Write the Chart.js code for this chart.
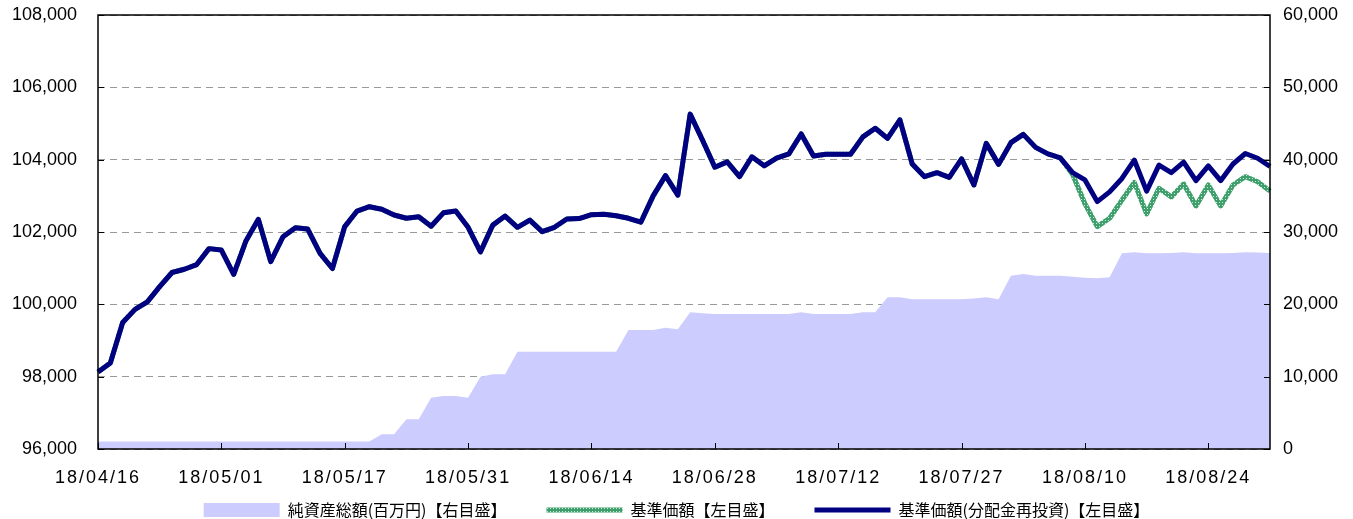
<!DOCTYPE html>
<html>
<head>
<meta charset="utf-8">
<script src="https://cdn.jsdelivr.net/npm/chart.js@4.4.1/dist/chart.umd.min.js"></script>
<style>
html,body{margin:0;padding:0;background:#fff;}
#wrap{width:1353px;height:519px;}
</style>
</head>
<body>
<div id="wrap"><canvas id="c" width="1353" height="519"></canvas></div>
<script>
// ---- data ----
const dates = [
 '18/04/16','18/04/17','18/04/18','18/04/19','18/04/20','18/04/23','18/04/24','18/04/25','18/04/26','18/04/27',
 '18/05/01','18/05/02','18/05/07','18/05/08','18/05/09','18/05/10','18/05/11','18/05/14','18/05/15','18/05/16',
 '18/05/17','18/05/18','18/05/21','18/05/22','18/05/23','18/05/24','18/05/25','18/05/28','18/05/29','18/05/30',
 '18/05/31','18/06/01','18/06/04','18/06/05','18/06/06','18/06/07','18/06/08','18/06/11','18/06/12','18/06/13',
 '18/06/14','18/06/15','18/06/18','18/06/19','18/06/20','18/06/21','18/06/22','18/06/25','18/06/26','18/06/27',
 '18/06/28','18/06/29','18/07/02','18/07/03','18/07/04','18/07/05','18/07/06','18/07/09','18/07/10','18/07/11',
 '18/07/12','18/07/13','18/07/17','18/07/18','18/07/19','18/07/20','18/07/23','18/07/24','18/07/25','18/07/26',
 '18/07/27','18/07/30','18/07/31','18/08/01','18/08/02','18/08/03','18/08/06','18/08/07','18/08/08','18/08/09',
 '18/08/10','18/08/13','18/08/14','18/08/15','18/08/16','18/08/17','18/08/20','18/08/21','18/08/22','18/08/23',
 '18/08/24','18/08/27','18/08/28','18/08/29','18/08/30','18/08/31'
];
const tickLabels = ['18/04/16','18/05/01','18/05/17','18/05/31','18/06/14','18/06/28','18/07/12','18/07/27','18/08/10','18/08/24'];

// 基準価額(分配金再投資)
const navReinvested = [
 98130, 98380, 99500, 99860,100070,100490,100880,100970,101100,101540,
 101500,100830,101760,102350,101180,101870,102120,102080,101410,100990,
 102150,102580,102700,102630,102470,102380,102420,102160,102530,102580,
 102130,101450,102190,102440,102130,102330,102010,102130,102360,102370,
 102480,102490,102450,102380,102270,103000,103560,103020,105260,104540,
 103790,103940,103530,104080,103830,104040,104160,104710,104100,104150,
 104150,104150,104630,104870,104590,105100,103880,103530,103640,103510,
 104020,103300,104450,103870,104470,104700,104340,104160,104050,103640,
 103440,102840,103110,103480,103990,103130,103850,103640,103930,103420,
 103830,103420,103880,104170,104040,103810
];
// 基準価額
const navPrice = [
 98130, 98380, 99500, 99860,100070,100490,100880,100970,101100,101540,
 101500,100830,101760,102350,101180,101870,102120,102080,101410,100990,
 102150,102580,102700,102630,102470,102380,102420,102160,102530,102580,
 102130,101450,102190,102440,102130,102330,102010,102130,102360,102370,
 102480,102490,102450,102380,102270,103000,103560,103020,105260,104540,
 103790,103940,103530,104080,103830,104040,104160,104710,104100,104150,
 104150,104150,104630,104870,104590,105100,103880,103530,103640,103510,
 104020,103300,104450,103870,104470,104700,104340,104160,104050,103590,
 102780,102150,102380,102880,103370,102500,103210,102970,103330,102720,
 103300,102720,103300,103530,103390,103130
];
// 純資産総額(百万円)
const netAssets = [
 1050,1050,1050,1050,1050,1050,1050,1050,1050,1050,
 1050,1050,1050,1050,1050,1050,1050,1050,1050,1050,
 1050,1050,1050,2030,2030,4100,4100,7090,7330,7330,
 7090,10000,10320,10320,13460,13460,13460,13460,13460,13460,
 13460,13460,13460,16450,16450,16450,16770,16550,18890,18760,
 18660,18660,18660,18660,18660,18660,18660,18890,18660,18660,
 18660,18660,18890,18890,20970,20970,20700,20700,20700,20700,
 20700,20800,20970,20700,23960,24190,23960,23960,23960,23820,
 23680,23590,23750,27050,27190,27050,27050,27100,27190,27050,
 27050,27050,27100,27190,27150,27100
];
const leftMin = 96000, leftMax = 108000, leftStep = 2000;
const rightMin = 0, rightMax = 60000, rightStep = 10000;

// ---- styles ----
const pc = document.createElement('canvas');
pc.width = 3; pc.height = 3;
const pctx = pc.getContext('2d');
pctx.fillStyle = '#3f9f6c'; pctx.fillRect(0,0,3,3);
pctx.fillStyle = '#cdebd8'; pctx.fillRect(1,1,1,1);
const greenPattern = pctx.createPattern(pc, 'repeat');

const fmt = v => Number(v).toLocaleString('en-US');

const frame = {
  id: 'frame',
  beforeDraw(chart) {
    const sx = chart.scales.x;
    // let the x tick labels extend below the (short) axis box, with letter spacing
    sx._computeLabelArea = () => null;
    if (!sx._spaced) {
      const orig = sx.drawLabels;
      sx.drawLabels = function(area) {
        this.ctx.save();
        this.ctx.letterSpacing = '2px';
        orig.call(this, area);
        this.ctx.restore();
      };
      sx._spaced = true;
    }
  },
  afterDatasetsDraw(chart) {
    const {ctx, chartArea: a, scales} = chart;
    ctx.save();
    ctx.strokeStyle = '#000';
    ctx.lineWidth = 1;
    ctx.beginPath();
    scales.y.ticks.forEach(t => {
      const y = Math.round(scales.y.getPixelForValue(t.value)) + 0.5;
      ctx.moveTo(a.left, y); ctx.lineTo(a.left + 6, y);
    });
    scales.y2.ticks.forEach(t => {
      const y = Math.round(scales.y2.getPixelForValue(t.value)) + 0.5;
      ctx.moveTo(a.right, y); ctx.lineTo(a.right - 6, y);
    });
    dates.forEach((d, i) => {
      if (tickLabels.includes(d)) {
        const x = Math.round(scales.x.getPixelForValue(i)) + 0.5;
        ctx.moveTo(x, a.bottom); ctx.lineTo(x, a.bottom - 6);
      }
    });
    ctx.stroke();
    ctx.lineWidth = 1.5;
    ctx.strokeRect(a.left, a.top, a.right - a.left, a.bottom - a.top);
    ctx.restore();
  }
};

new Chart(document.getElementById('c'), {
  type: 'line',
  data: {
    labels: dates,
    datasets: [
      {
        label: '純資産総額(百万円)【右目盛】',
        data: netAssets,
        yAxisID: 'y2',
        backgroundColor: '#ccccff',
        borderColor: '#ccccff',
        borderWidth: 0,
        fill: 'origin',
        pointRadius: 0,
        pointStyle: 'rect',
        order: 3
      },
      {
        label: '基準価額【左目盛】',
        data: navPrice,
        yAxisID: 'y',
        borderColor: greenPattern,
        backgroundColor: greenPattern,
        borderWidth: 5,
        fill: false,
        pointRadius: 0,
        pointStyle: 'line',
        borderJoinStyle: 'round',
        order: 2
      },
      {
        label: '基準価額(分配金再投資)【左目盛】',
        data: navReinvested,
        yAxisID: 'y',
        borderColor: '#000080',
        backgroundColor: '#000080',
        borderWidth: 5,
        fill: false,
        pointRadius: 0,
        pointStyle: 'line',
        borderJoinStyle: 'round',
        order: 1
      }
    ]
  },
  options: {
    responsive: false,
    animation: false,
    devicePixelRatio: 1,
    layout: { padding: { left: 0, right: 0, top: 15, bottom: -9 } },
    plugins: {
      tooltip: { enabled: false },
      legend: {
        position: 'bottom',
        labels: {
          usePointStyle: true,
          pointStyleWidth: 76,
          boxHeight: 14,
          padding: 40,
          color: '#000',
          font: { family: "'Noto Sans CJK JP', sans-serif", size: 16 },
          sort: (a, b) => a.datasetIndex - b.datasetIndex
        }
      }
    },
    scales: {
      x: {
        type: 'category',
        offset: false,
        grid: { display: false, drawTicks: false },
        border: { display: false },
        afterFit: s => { s.height = 13; s.paddingLeft = 0; s.paddingRight = 0; },
        ticks: {
          autoSkip: false,
          maxRotation: 0,
          minRotation: 0,
          padding: 18,
          color: '#000',
          font: { family: "'Liberation Sans', Arial, sans-serif", size: 18 },
          callback: function(v, i) { const l = dates[i]; return tickLabels.includes(l) ? l : ''; }
        }
      },
      y: {
        position: 'left',
        min: leftMin, max: leftMax,
        afterFit: s => { s.width = 98; s.paddingTop = 0; s.paddingBottom = 0; },
        grid: { color: '#999999', lineWidth: 1, drawTicks: false },
        border: { display: false, dash: [7, 5] },
        ticks: {
          stepSize: leftStep,
          padding: 21,
          color: '#000',
          font: { family: "'Liberation Sans', Arial, sans-serif", size: 18 },
          callback: v => fmt(v)
        }
      },
      y2: {
        position: 'right',
        min: rightMin, max: rightMax,
        afterFit: s => { s.width = 83; s.paddingTop = 0; s.paddingBottom = 0; },
        grid: { display: false, drawTicks: false },
        border: { display: false },
        ticks: {
          stepSize: rightStep,
          padding: 13,
          color: '#000',
          font: { family: "'Liberation Sans', Arial, sans-serif", size: 18 },
          callback: v => fmt(v)
        }
      }
    }
  },
  plugins: [frame]
});
</script>
</body>
</html>
